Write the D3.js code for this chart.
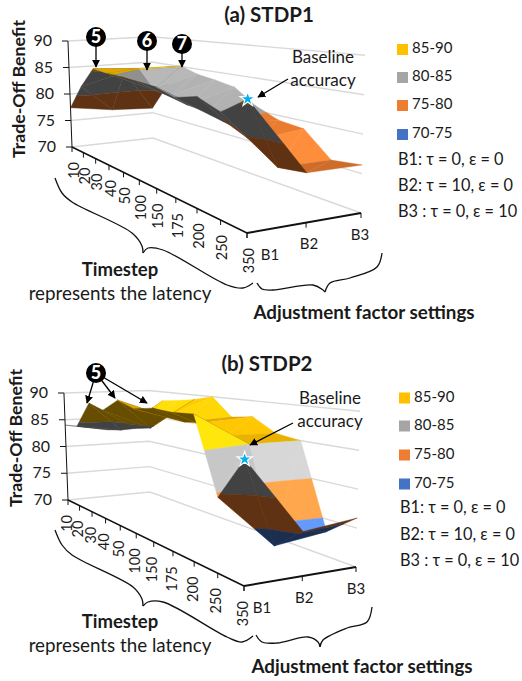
<!DOCTYPE html>
<html>
<head>
<meta charset="utf-8">
<script src="https://cdnjs.cloudflare.com/ajax/libs/d3/7.8.5/d3.min.js"></script>
<style>
body { margin: 0; background: #fff; }
svg { display: block; }
text { font-family: Lato, "Noto Sans", sans-serif; fill: #1a1a1a; }
</style>
</head>
<body>
<svg width="522" height="681"></svg>
<script>
const timesteps = [10, 20, 30, 40, 50, 100, 150, 175, 200, 250, 350];
const settings = ['B1', 'B2', 'B3'];
const zTicks = [70, 75, 80, 85, 90];

const stdp1B1 = [77.4, 82, 85.7, 85.4, 85.3, 85.1, 84.9, 84, 84.8, 83.5, 85.8];
const stdp1B2 = [76.3, 84, 85.2, 82, 81.6, 80.8, 80.5, 79.5, 78, 75.6, 76.1];
const stdp1B3 = [75.9, 80.6, 85.1, 84.1, 83.6, 83, 80.7, 79.3, 78.9, 75.6, 76.1];

const stdp2B1 = [84, 84.3, 88.8, 88, 90, 89, 89.5, 89.3, 89.5, 79.5, 85];
const stdp2B2 = [82.7, 83.2, 84, 84.6, 87, 86.6, 87, 85.6, 85, 72.4, 75.5];
const stdp2B3 = [85, 88.3, 88.7, 89.2, 90, 87, 87.5, 85.5, 85, 73.3, 76.3];

const bandNames = ['85-90', '80-85', '75-80', '70-75'];
const bandLow = [85, 80, 75, 70];
const bandColors = ['#ffc000', '#a5a5a5', '#ed7d31', '#4472c4'];

const svg = d3.select('svg');

svg.append('defs').append('marker')
    .attr('id', 'head')
    .attr('viewBox', '0 0 10 10')
    .attr('refX', 9).attr('refY', 5)
    .attr('markerWidth', 8).attr('markerHeight', 8)
    .attr('markerUnits', 'userSpaceOnUse')
    .attr('orient', 'auto')
    .append('path').attr('d', 'M0,0L10,5L0,10Z').attr('fill', '#000');

// square to quad homography, corners: t=10/B1, t=350/B1, t=350/B3, t=10/B3
function homography([p0, p1, p2, p3]) {
    const dx1 = p1[0] - p2[0], dx2 = p3[0] - p2[0], sx = p0[0] - p1[0] + p2[0] - p3[0];
    const dy1 = p1[1] - p2[1], dy2 = p3[1] - p2[1], sy = p0[1] - p1[1] + p2[1] - p3[1];
    const den = dx1 * dy2 - dx2 * dy1;
    const g = (sx * dy2 - dx2 * sy) / den, h = (dx1 * sy - sx * dy1) / den;
    return (u, v) => {
        const w = g * u + h * v + 1;
        return [((p1[0] - p0[0] + g * p1[0]) * u + (p3[0] - p0[0] + h * p3[0]) * v + p0[0]) / w,
                ((p1[1] - p0[1] + g * p1[1]) * u + (p3[1] - p0[1] + h * p3[1]) * v + p0[1]) / w, w];
    };
}

function shade(color, k) {
    const c = d3.rgb(color);
    const base = d3.rgb(Math.min(255, c.r * k), Math.min(255, c.g * k), Math.min(255, c.b * k));
    return k > 1 ? d3.interpolateRgb(base, '#fff')((k - 1) * 0.25) : base.formatHex();
}

function clipBand(tri, lo, hi) {
    const cut = (poly, keep, level) => {
        const out = [];
        poly.forEach((a, i) => {
            const b = poly[(i + 1) % poly.length];
            if (keep(a[2])) out.push(a);
            if (keep(a[2]) !== keep(b[2])) {
                const s = (level - a[2]) / (b[2] - a[2]);
                out.push([a[0] + s * (b[0] - a[0]), a[1] + s * (b[1] - a[1]), level]);
            }
        });
        return out;
    };
    let poly = cut(tri, z => z >= lo, lo);
    if (poly.length) poly = cut(poly, z => z <= hi, hi);
    return poly;
}

function drawPanel(cfg) {
    const g = svg.append('g');
    const floor = homography(cfg.corners);
    const uScale = d3.scalePoint().domain(timesteps).range([0, 1]);
    const vScale = d3.scalePoint().domain(settings).range([0, 1]);
    const wScale = d3.scaleLinear().domain([70, 90]).range([0, 1]);
    const iu = timesteps.map(t => uScale(t));
    const iv = settings.map(s => vScale(s));

    const project = (u, v, z) => {
        const [x, y, w] = floor(u, v);
        const k = wScale(z);
        return [cfg.cx + (x - cfg.cx) * (1 + cfg.lean * k), y - cfg.height * k / w];
    };
    const polyLine = d3.line();

    // walls
    zTicks.forEach(z => {
        g.append('path')
            .attr('d', polyLine([project(0, 0, z), project(0, 1, z), project(1, 1, z)]))
            .attr('fill', 'none').attr('stroke', '#d9d9d9').attr('stroke-width', 1.4);
    });

    // surface, back cells first
    const grid = cfg.values;
    const triangles = [];
    for (let i = 0; i < timesteps.length - 1; i++) {
        for (let j = settings.length - 2; j >= 0; j--) {
            const a = [iu[i], iv[j], grid[j][i]];
            const b = [iu[i + 1], iv[j], grid[j][i + 1]];
            const c = [iu[i + 1], iv[j + 1], grid[j + 1][i + 1]];
            const d = [iu[i], iv[j + 1], grid[j + 1][i]];
            triangles.push({tri: [a, b, d], dzt: b[2] - a[2], dzb: d[2] - a[2]});
            triangles.push({tri: [c, d, b], dzt: c[2] - d[2], dzb: c[2] - b[2]});
        }
    }
    triangles.forEach(({tri, dzt, dzb}) => {
        const [p, q, r] = tri.map(n => project(n[0], n[1], n[2]));
        const area = (q[0] - p[0]) * (r[1] - p[1]) - (q[1] - p[1]) * (r[0] - p[0]);
        const under = area > 0;
        const slope = Math.max(0, dzb - dzt);
        const k = under ? 0.4 : 0.87 + 0.43 * (1 - Math.exp(-slope / 4));
        bandLow.forEach((lo, n) => {
            const poly = clipBand(tri, lo, lo + 5);
            if (poly.length < 3) return;
            const color = shade(bandColors[n], k);
            g.append('path')
                .attr('d', polyLine(poly.map(m => project(m[0], m[1], m[2]))) + 'Z')
                .attr('fill', color).attr('stroke', color).attr('stroke-width', 0.4);
        });
    });

    // axes
    const axisLine = pts => g.append('path').attr('d', polyLine(pts))
        .attr('fill', 'none').attr('stroke', '#111');
    axisLine([project(0, 0, 70), project(0, 0, 90)]).attr('stroke-width', 1);
    axisLine([project(0, 0, 70), project(1, 0, 70)]).attr('stroke-width', 1.5);
    axisLine([project(1, 0, 70), project(1, 1, 70)]).attr('stroke-width', 2);

    zTicks.forEach(z => {
        const p = project(0, 0, z);
        axisLine([p, [p[0] - 6, p[1]]]).attr('stroke-width', 1);
        g.append('text').attr('x', p[0] - 16).attr('y', p[1] + 1)
            .attr('text-anchor', 'end').attr('dominant-baseline', 'middle')
            .attr('font-size', 16).text(z);
    });
    timesteps.forEach(t => {
        const p = project(uScale(t), 0, 70);
        axisLine([p, [p[0], p[1] + 5]]).attr('stroke-width', 1);
        g.append('text')
            .attr('transform', `translate(${p[0] + cfg.tickDx},${p[1] + 15}) rotate(-90)`)
            .attr('text-anchor', 'end').attr('dominant-baseline', 'middle')
            .attr('font-size', 14.5).text(t);
    });
    settings.forEach((s, j) => {
        const p = project(1, vScale(s), 70);
        axisLine([p, [p[0], p[1] + 5]]).attr('stroke-width', 1);
        g.append('text').attr('x', p[0] + cfg.settingDx[j]).attr('y', p[1] + 23)
            .attr('text-anchor', 'middle').attr('dominant-baseline', 'middle')
            .attr('font-size', 15).text(s);
    });

    // titles
    g.append('text').attr('x', cfg.title[0]).attr('y', cfg.title[1])
        .attr('text-anchor', 'middle').attr('dominant-baseline', 'middle')
        .attr('font-size', 20.5).attr('font-weight', 700).text(cfg.titleText);
    g.append('text')
        .attr('transform', `translate(${cfg.yTitle[0]},${cfg.yTitle[1]}) rotate(-90)`)
        .attr('text-anchor', 'middle').attr('dominant-baseline', 'middle')
        .attr('font-size', 17.7).attr('font-weight', 700).text('Trade-Off Benefit');
    g.append('text').attr('x', 120).attr('y', cfg.timeY)
        .attr('text-anchor', 'middle').attr('font-size', 18.5).attr('font-weight', 700).text('Timestep');
    g.append('text').attr('x', 120).attr('y', cfg.timeY + 24)
        .attr('text-anchor', 'middle').attr('font-size', 18.8).text('represents the latency');
    g.append('text').attr('x', cfg.adjX).attr('y', cfg.adjY)
        .attr('text-anchor', 'middle').attr('font-size', 18.8).attr('font-weight', 700).text('Adjustment factor settings');

    // braces
    const brace = d3.line().curve(d3.curveCatmullRom);
    cfg.braces.forEach(pts => {
        g.append('path').attr('d', brace(pts)).attr('fill', 'none')
            .attr('stroke', '#111').attr('stroke-width', 1.3);
    });

    // numbered callouts
    cfg.callouts.forEach(c => {
        c.to.forEach(to => {
            g.append('line').attr('x1', c.at[0]).attr('y1', c.at[1]).attr('x2', to[0]).attr('y2', to[1])
                .attr('stroke', '#000').attr('stroke-width', 1.3).attr('marker-end', 'url(#head)');
        });
        g.append('circle').attr('cx', c.at[0]).attr('cy', c.at[1]).attr('r', 10).attr('fill', '#000');
        g.append('text').attr('x', c.at[0]).attr('y', c.at[1] + 1)
            .attr('text-anchor', 'middle').attr('dominant-baseline', 'middle')
            .attr('font-size', 18).attr('font-weight', 900).style('fill', '#fff').text(c.label);
    });

    // baseline marker
    const star = project(1, 0, cfg.values[0][10]);
    g.append('path')
        .attr('transform', `translate(${star[0]},${star[1]})`)
        .attr('d', d3.symbol().type(d3.symbolStar).size(70)())
        .attr('fill', '#00b0f0').attr('stroke', '#fff').attr('stroke-width', 1.2);
    g.append('text').attr('x', cfg.baseText[0]).attr('y', cfg.baseText[1])
        .attr('text-anchor', 'middle').attr('font-size', 17).text('Baseline');
    g.append('text').attr('x', cfg.baseText[0]).attr('y', cfg.baseText[1] + 23)
        .attr('text-anchor', 'middle').attr('font-size', 17).text('accuracy');
    g.append('line').attr('x1', cfg.baseArrow[0]).attr('y1', cfg.baseArrow[1])
        .attr('x2', cfg.baseArrow[2]).attr('y2', cfg.baseArrow[3])
        .attr('stroke', '#000').attr('stroke-width', 1.3).attr('marker-end', 'url(#head)');

    // legend
    bandNames.forEach((name, n) => {
        const y = cfg.legendY[n];
        g.append('rect').attr('x', cfg.legendX).attr('y', y - 5.5).attr('width', 11).attr('height', 11)
            .attr('fill', bandColors[n]);
        g.append('text').attr('x', cfg.legendX + 15).attr('y', y)
            .attr('dominant-baseline', 'middle').attr('font-size', 15).text(name);
    });
    cfg.notes.forEach((note, n) => {
        g.append('text').attr('x', cfg.legendX + 1).attr('y', cfg.noteY[n])
            .attr('dominant-baseline', 'middle').attr('font-size', 16.3).text(note);
    });
}

const notes = ['B1: τ = 0, ε = 0', 'B2: τ = 10, ε = 0', 'B3 : τ = 0, ε = 10'];

drawPanel({
    titleText: '(a) STDP1', title: [269, 17], yTitle: [20, 89],
    corners: [[72, 147], [247, 233], [361, 213], [153, 138]],
    height: 106, cx: 216, lean: 0.028, settingDx: [23, 3, -1], tickDx: 3,
    values: [stdp1B1, stdp1B2, stdp1B3],
    timeY: 276, adjX: 364, adjY: 319,
    braces: [
        [[55, 178], [62, 193], [72, 202], [132, 233], [142, 246], [143, 253]],
        [[143, 253], [148, 248], [163, 250], [227, 285], [243, 288], [253, 283]],
        [[257, 283], [262, 289], [273, 290], [313, 285], [323, 290], [325, 292]],
        [[325, 292], [330, 283], [350, 278], [377, 267], [382, 253]]
    ],
    callouts: [
        {label: '5', at: [96, 37], to: [[96, 67]]},
        {label: '6', at: [147, 41], to: [[147, 70]]},
        {label: '7', at: [182, 44], to: [[182, 67]]}
    ],
    baseText: [323, 63], baseArrow: [288, 79, 258, 97],
    legendX: 397, legendY: [49.5, 77.5, 105.5, 134.5], noteY: [161, 187, 213],
    notes
});

drawPanel({
    titleText: '(b) STDP2', title: [267, 366], yTitle: [17, 438],
    corners: [[68, 500], [244, 586], [356, 567], [150, 492]],
    height: 107, cx: 212, lean: 0.028, settingDx: [18, 2, 0], tickDx: 0,
    values: [stdp2B1, stdp2B2, stdp2B3],
    timeY: 628, adjX: 362, adjY: 673,
    braces: [
        [[55, 530], [62, 545], [72, 555], [133, 587], [142, 599], [143, 606]],
        [[143, 606], [148, 602], [163, 602], [227, 637], [242, 642], [253, 636]],
        [[256, 635], [262, 642], [277, 643], [308, 637], [318, 642], [320, 647]],
        [[320, 647], [323, 640], [347, 628], [367, 622], [372, 607]]
    ],
    callouts: [
        {label: '5', at: [96, 373], to: [[87, 403], [115, 398], [147, 403]]}
    ],
    baseText: [330, 404], baseArrow: [293, 423, 250, 445],
    legendX: 399, legendY: [398, 426, 455, 484], noteY: [509, 536, 562],
    notes
});
</script>
</body>
</html>
